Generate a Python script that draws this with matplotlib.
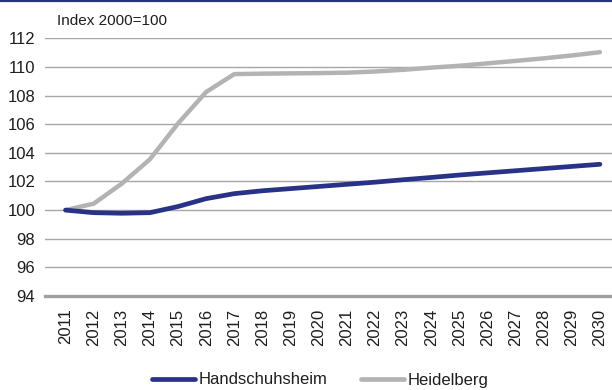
import matplotlib
matplotlib.use("Agg")
import matplotlib.pyplot as plt
from matplotlib.lines import Line2D

plt.rcParams['font.family'] = ['Liberation Sans', 'DejaVu Sans']

years = [str(y) for y in range(2011, 2031)]
handschuhsheim = [100.0, 99.82, 99.78, 99.82, 100.25, 100.8, 101.15, 101.35, 101.5, 101.65,
                  101.8, 101.95, 102.12, 102.28, 102.45, 102.6, 102.75, 102.9, 103.05, 103.2]
heidelberg = [100.0, 100.45, 101.85, 103.55, 106.05, 108.25, 109.5, 109.53, 109.55, 109.57,
              109.6, 109.68, 109.8, 109.95, 110.08, 110.25, 110.42, 110.6, 110.8, 111.03]
yticks = [94, 96, 98, 100, 102, 104, 106, 108, 110, 112]

navy = '#283287'
grey_line = '#b3b3b3'
grid_col = '#a6a6a6'
text_col = '#1e1e1e'

fig = plt.figure(figsize=(6.12, 3.90), dpi=100)
ax = fig.add_axes([45 / 612, 1 - 296 / 390, 567 / 612, (296 - 38.3) / 390])

x = list(range(len(years)))
ax.plot(x, heidelberg, color=grey_line, lw=3.2, solid_capstyle='round',
        solid_joinstyle='round', label='Heidelberg', zorder=3)
ax.plot(x, handschuhsheim, color=navy, lw=3.4, solid_capstyle='round',
        solid_joinstyle='round', label='Handschuhsheim', zorder=4)

ax.set_ylim(94, 112)
ax.set_xlim(-0.73, 19.43)
ax.set_yticks(yticks)
ax.set_yticklabels([str(v) for v in yticks], fontsize=12, color=text_col)
ax.set_xticks(x)
ax.set_xticklabels(years, rotation=90, fontsize=12, color=text_col)
ax.tick_params(axis='both', length=0)
ax.tick_params(axis='y', pad=7)
ax.tick_params(axis='x', pad=9)

for v in yticks[1:]:
    ax.axhline(v, color=grid_col, lw=1.0, zorder=1)
for s in ['top', 'right', 'left']:
    ax.spines[s].set_visible(False)
ax.spines['bottom'].set_color('#a0a0a0')
ax.spines['bottom'].set_linewidth(2.4)
ax.spines['bottom'].set_zorder(2)

fig.text(57 / 612, 1 - 21 / 390, 'Index 2000=100', fontsize=11, color=text_col,
         ha='left', va='center')

# dark rule across the top edge
fig.add_artist(Line2D([0, 1], [1 - 1 / 390, 1 - 1 / 390], transform=fig.transFigure,
                      color=navy, lw=1.6))

handles = [Line2D([], [], color=navy, lw=3.4, solid_capstyle='round'),
           Line2D([], [], color=grey_line, lw=3.4, solid_capstyle='round')]
fig.legend(handles, ['Handschuhsheim', 'Heidelberg'], loc='center',
           bbox_to_anchor=(320 / 612, 1 - 380 / 390), ncol=2, frameon=False,
           fontsize=12, handlelength=2.6, handletextpad=0.2, columnspacing=2.0,
           labelcolor=text_col, borderpad=0, borderaxespad=0)

fig.savefig('out.png', dpi=100)
